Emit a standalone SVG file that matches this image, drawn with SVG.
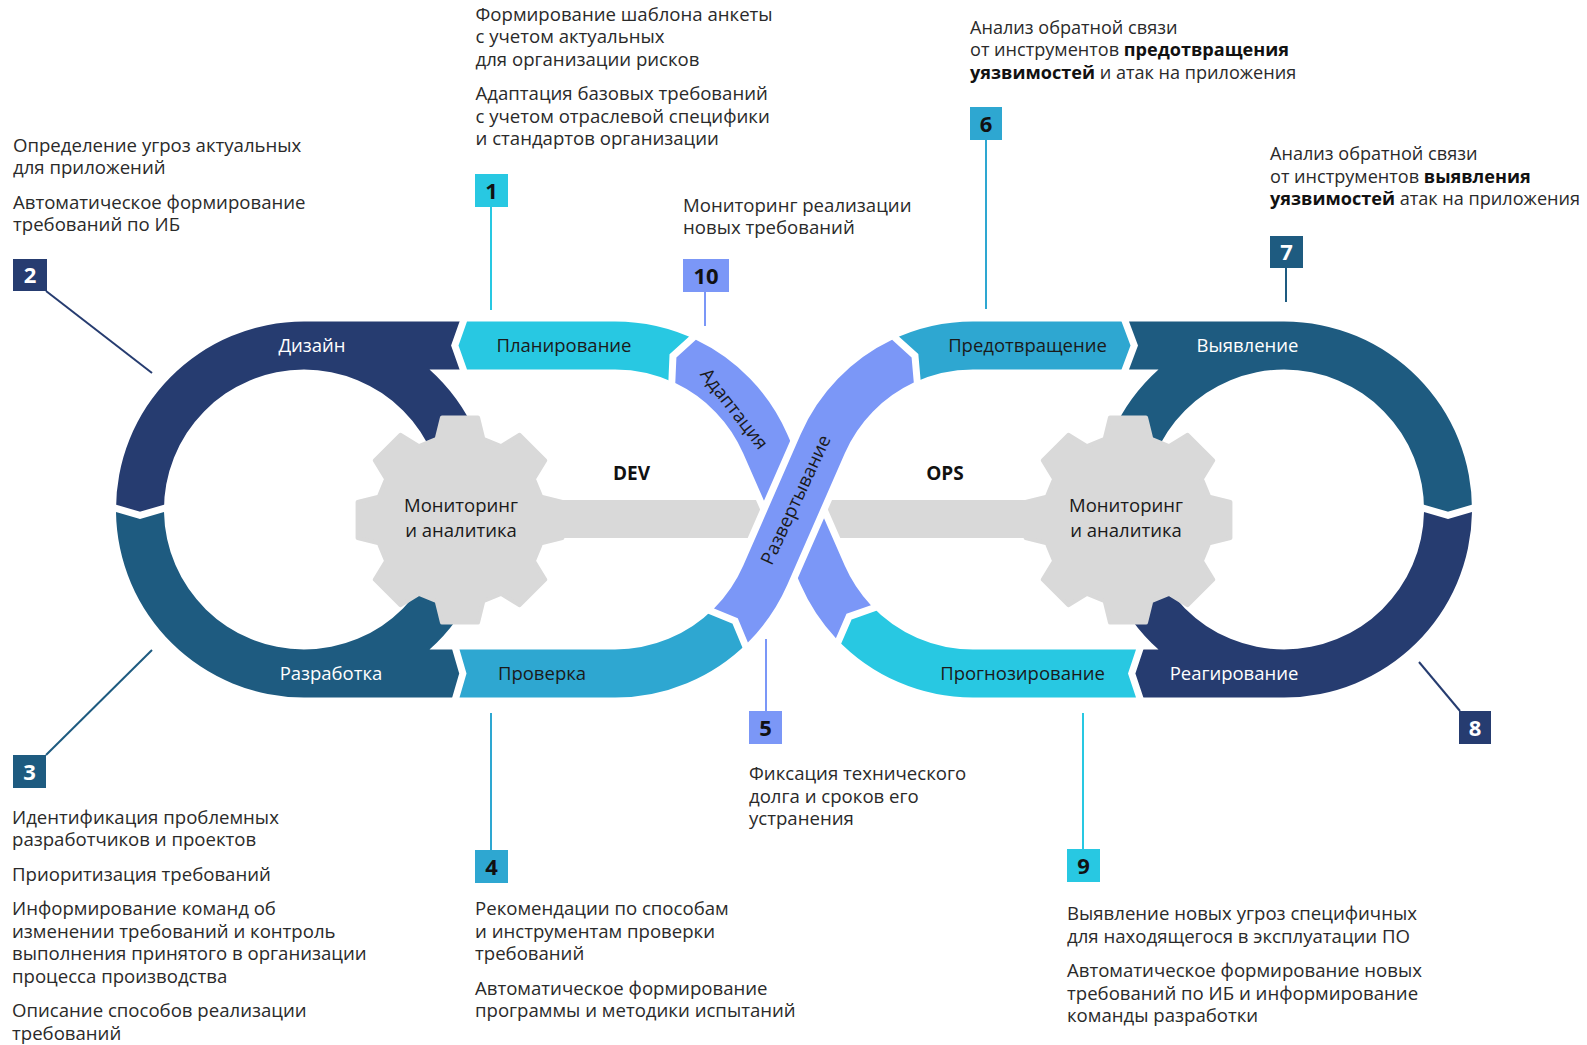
<svg xmlns="http://www.w3.org/2000/svg" width="1587" height="1045" viewBox="0 0 1587 1045">
<style>
.seg{stroke:#fff;stroke-width:14;paint-order:stroke;stroke-linejoin:miter}
.navy{fill:#263C70}.teal{fill:#1E5B80}.cyan{fill:#28C8E2}.blue{fill:#2EA7D1}.peri{fill:#7B97F7}
.gr{fill:#D9D9D9;stroke:#D9D9D9;stroke-width:4;stroke-linejoin:round}
.lbl{font-family:"Open Sans","DejaVu Sans",sans-serif;font-size:18.5px;text-anchor:middle}
.lw{fill:#fff}.ld{fill:#1a1a1a}
.txt{font-family:"Open Sans","DejaVu Sans",sans-serif;font-size:18.6px;fill:#2a2a2a}
.sm{font-size:18.1px}
.b{font-weight:700;fill:#111}
.hd{font-family:"Open Sans","DejaVu Sans",sans-serif;font-size:19px;font-weight:700;fill:#111;text-anchor:middle}
.num{font-family:"Open Sans","DejaVu Sans",sans-serif;font-size:22px;font-weight:700;text-anchor:middle}
.ln{stroke-width:2;fill:none}
</style>
<defs>
<polygon id="gearShape" points="81.23,-23.29 102.42,-18.05 102.42,18.05 81.23,23.29 73.90,40.97 85.20,59.65 59.65,85.20 40.97,73.90 23.29,81.23 18.05,102.42 -18.05,102.42 -23.29,81.23 -40.97,73.90 -59.65,85.20 -85.20,59.65 -73.90,40.97 -81.23,23.29 -102.42,18.05 -102.42,-18.05 -81.23,-23.29 -73.90,-40.97 -85.20,-59.65 -59.65,-85.20 -40.97,-73.90 -23.29,-81.23 -18.05,-102.42 18.05,-102.42 23.29,-81.23 40.97,-73.90 59.65,-85.20 85.20,-59.65 73.90,-40.97"/>
</defs>
<rect width="1587" height="1045" fill="#fff"/>

<g id="seg-design"><path class="seg navy" d="M116,512 A188,188 0 0 1 304,321.5 L467,321.5 L458.5,345.5 L467,369.5 L429.5,369.5 A188,188 0 0 1 492,509.5 L444,509.5 A140,140 0 0 0 304,369.5 A140,140 0 0 0 164,512 L140,519 Z"/></g>
<g id="seg-dev"><path class="seg teal" d="M116,512 L140,519 L164,512 A140,140 0 0 0 304,649.5 A140,140 0 0 0 444,509.5 L492,509.5 A188,188 0 0 1 429.5,649.5 L459.5,649.5 L466.5,673.5 L459.5,697.5 L304,697.5 A188,188 0 0 1 116,512 Z"/></g>
<g id="seg-plan"><path class="seg cyan" d="M467,321.5 L615,321.5 A188,188 0 0 1 695.9,339.8 L676.4,357.4 L675.3,383.1 A140,140 0 0 0 615,369.5 L467,369.5 L458.5,345.5 Z"/></g>
<g id="seg-check"><path class="seg blue" d="M459.5,649.5 L615,649.5 A140,140 0 0 0 714,608.5 L737.8,618.2 L747.9,642.4 A188,188 0 0 1 615,697.5 L459.5,697.5 L466.5,673.5 Z"/></g>
<g id="seg-prevent"><path class="seg blue" d="M892.1,339.8 A188,188 0 0 1 973,321.5 L1129,321.5 L1138,345.5 L1129,369.5 L973,369.5 A140,140 0 0 0 913.8,382.6 L911.6,357.4 Z"/></g>
<g id="seg-detect"><path class="seg teal" d="M1129,321.5 L1284,321.5 A188,188 0 0 1 1472,512 L1448,519 L1424,512 A140,140 0 0 0 1284,369.5 A140,140 0 0 0 1144,509.5 L1096,509.5 A188,188 0 0 1 1158.5,369.5 L1129,369.5 L1138,345.5 Z"/></g>
<g id="seg-react"><path class="seg navy" d="M1472,512 L1448,519 L1424,512 A140,140 0 0 1 1284,649.5 A140,140 0 0 1 1144,509.5 L1096,509.5 A188,188 0 0 0 1158.5,649.5 L1136,649.5 L1128,673.5 L1136,697.5 L1284,697.5 A188,188 0 0 0 1472,512 Z"/></g>
<g id="seg-forecast"><path class="seg cyan" d="M1136,649.5 L973,649.5 A140,140 0 0 1 870.9,605.3 L846.5,613.8 L835.9,638.2 A188,188 0 0 0 973,697.5 L1136,697.5 L1128,673.5 Z"/></g>

<g id="gear-left"><use href="#gearShape" x="460" y="520" class="gr"/></g>
<g id="gear-right"><use href="#gearShape" x="1128" y="520" class="gr"/></g>
<g id="arm"><rect x="540" y="500" width="508" height="38" fill="#D9D9D9"/></g>

<g id="seg-adapt"><path class="seg peri" d="M695.9,339.8 A188,188 0 0 1 787.3,434.2 L844.7,565.6 A140,140 0 0 0 870.9,605.3 L846.5,613.8 L835.9,638.2 A188,188 0 0 1 800.7,584.8 L743.3,453.5 A140,140 0 0 0 675.3,383.1 L676.4,357.4 Z"/></g>
<g id="seg-deploy"><path class="seg peri" d="M714,608.5 L737.8,618.2 L747.9,642.4 A188,188 0 0 0 787.3,584.8 L844.7,453.5 A140,140 0 0 1 913.8,382.6 L911.6,357.4 L892.1,339.8 A188,188 0 0 0 800.7,434.2 L743.3,565.5 A140,140 0 0 1 714,608.5 Z"/></g>

<g id="labels">
<text class="lbl lw" x="312" y="351.5">Дизайн</text>
<text class="lbl ld" x="564" y="351.5">Планирование</text>
<text class="lbl lw" x="331" y="679.5">Разработка</text>
<text class="lbl ld" x="542" y="679.5">Проверка</text>
<text class="lbl ld" x="1027.5" y="351.5">Предотвращение</text>
<text class="lbl lw" x="1247.5" y="351.5">Выявление</text>
<text class="lbl ld" x="1022.5" y="679.5">Прогнозирование</text>
<text class="lbl lw" x="1234" y="679.5">Реагирование</text>
<text class="lbl ld" transform="translate(734,409) rotate(52)" y="6">Адаптация</text>
<text class="lbl ld" transform="translate(796,500) rotate(-65)" y="6">Развертывание</text>
<text class="lbl ld" x="461" y="512">Мониторинг</text>
<text class="lbl ld" x="461" y="537">и аналитика</text>
<text class="lbl ld" x="1126" y="512">Мониторинг</text>
<text class="lbl ld" x="1126" y="537">и аналитика</text>
<text class="hd" x="631.5" y="480">DEV</text>
<text class="hd" x="945" y="480">OPS</text>
</g>

<g id="connectors">
<line class="ln" stroke="#28C8E2" x1="491" y1="207" x2="491" y2="310"/>
<line class="ln" stroke="#263C70" x1="46" y1="291" x2="152" y2="373"/>
<line class="ln" stroke="#1E5B80" x1="46" y1="755" x2="152" y2="650"/>
<line class="ln" stroke="#2EA7D1" x1="491" y1="713" x2="491" y2="850"/>
<line class="ln" stroke="#7B97F7" x1="766" y1="639" x2="766" y2="711"/>
<line class="ln" stroke="#2EA7D1" x1="986" y1="140" x2="986" y2="309"/>
<line class="ln" stroke="#1E5B80" x1="1286" y1="268" x2="1286" y2="302"/>
<line class="ln" stroke="#263C70" x1="1460" y1="711" x2="1419" y2="662"/>
<line class="ln" stroke="#28C8E2" x1="1083" y1="713" x2="1083" y2="849"/>
<line class="ln" stroke="#7B97F7" x1="705" y1="292" x2="705" y2="326"/>
</g>

<g id="node-1">
<rect x="475" y="174" width="33" height="33" fill="#28C8E2"/>
<text class="num" x="491.5" y="198.5" fill="#111">1</text>
<text class="txt"><tspan x="475.5" y="20.5">Формирование шаблона анкеты</tspan><tspan x="475.5" y="43">с учетом актуальных</tspan><tspan x="475.5" y="65.5">для организации рисков</tspan><tspan x="475.5" y="100">Адаптация базовых требований</tspan><tspan x="475.5" y="122.5">с учетом отраслевой специфики</tspan><tspan x="475.5" y="145">и стандартов организации</tspan></text>
</g>
<g id="node-2">
<rect x="13" y="259" width="34" height="32" fill="#263C70"/>
<text class="num" x="30" y="283" fill="#fff">2</text>
<text class="txt"><tspan x="13" y="151.5">Определение угроз  актуальных</tspan><tspan x="13" y="174">для приложений</tspan><tspan x="13" y="208.5">Автоматическое формирование</tspan><tspan x="13" y="231">требований по ИБ</tspan></text>
</g>
<g id="node-3">
<rect x="13" y="755" width="33" height="33" fill="#1E5B80"/>
<text class="num" x="29.5" y="779.5" fill="#fff">3</text>
<text class="txt"><tspan x="12" y="823.5">Идентификация проблемных</tspan><tspan x="12" y="846">разработчиков и проектов</tspan><tspan x="12" y="880.5">Приоритизация требований</tspan><tspan x="12" y="915">Информирование команд об</tspan><tspan x="12" y="937.5">изменении требований и контроль</tspan><tspan x="12" y="960">выполнения принятого в организации</tspan><tspan x="12" y="982.5">процесса производства</tspan><tspan x="12" y="1017">Описание способов реализации</tspan><tspan x="12" y="1039.5">требований</tspan></text>
</g>
<g id="node-4">
<rect x="475" y="850" width="33" height="33" fill="#2EA7D1"/>
<text class="num" x="491.5" y="874.5" fill="#111">4</text>
<text class="txt"><tspan x="475" y="915">Рекомендации по способам</tspan><tspan x="475" y="937.5">и инструментам проверки</tspan><tspan x="475" y="960">требований</tspan><tspan x="475" y="995">Автоматическое формирование</tspan><tspan x="475" y="1017">программы и методики испытаний</tspan></text>
</g>
<g id="node-5">
<rect x="749" y="711" width="33" height="33" fill="#7B97F7"/>
<text class="num" x="765.5" y="735.5" fill="#111">5</text>
<text class="txt"><tspan x="749" y="780">Фиксация технического</tspan><tspan x="749" y="802.5">долга и сроков его</tspan><tspan x="749" y="825">устранения</tspan></text>
</g>
<g id="node-6">
<rect x="970" y="107" width="32" height="33" fill="#2EA7D1"/>
<text class="num" x="986" y="131.5" fill="#111">6</text>
<text class="txt sm"><tspan x="970" y="33.5">Анализ обратной связи</tspan><tspan x="970" y="56">от инструментов <tspan class="b">предотвращения</tspan></tspan><tspan x="970" y="78.5"><tspan class="b">уязвимостей</tspan> и атак на приложения</tspan></text>
</g>
<g id="node-7">
<rect x="1270" y="236" width="33" height="32" fill="#1E5B80"/>
<text class="num" x="1286.5" y="260" fill="#fff">7</text>
<text class="txt sm"><tspan x="1270" y="160">Анализ обратной связи</tspan><tspan x="1270" y="182.5">от инструментов <tspan class="b">выявления</tspan></tspan><tspan x="1270" y="205"><tspan class="b">уязвимостей</tspan> атак на приложения</tspan></text>
</g>
<g id="node-8">
<rect x="1459" y="711" width="32" height="33" fill="#263C70"/>
<text class="num" x="1475" y="735.5" fill="#fff">8</text>
</g>
<g id="node-9">
<rect x="1067" y="849" width="33" height="33" fill="#28C8E2"/>
<text class="num" x="1083.5" y="873.5" fill="#111">9</text>
<text class="txt"><tspan x="1067" y="920">Выявление новых угроз специфичных</tspan><tspan x="1067" y="942.5">для находящегося в эксплуатации ПО</tspan><tspan x="1067" y="977">Автоматическое формирование новых</tspan><tspan x="1067" y="999.5">требований по ИБ и информирование</tspan><tspan x="1067" y="1022">команды разработки</tspan></text>
</g>
<g id="node-10">
<rect x="683" y="259" width="46" height="33" fill="#7B97F7"/>
<text class="num" x="706" y="283.5" fill="#111">10</text>
<text class="txt"><tspan x="683" y="211.5">Мониторинг реализации</tspan><tspan x="683" y="234">новых требований</tspan></text>
</g>
</svg>
